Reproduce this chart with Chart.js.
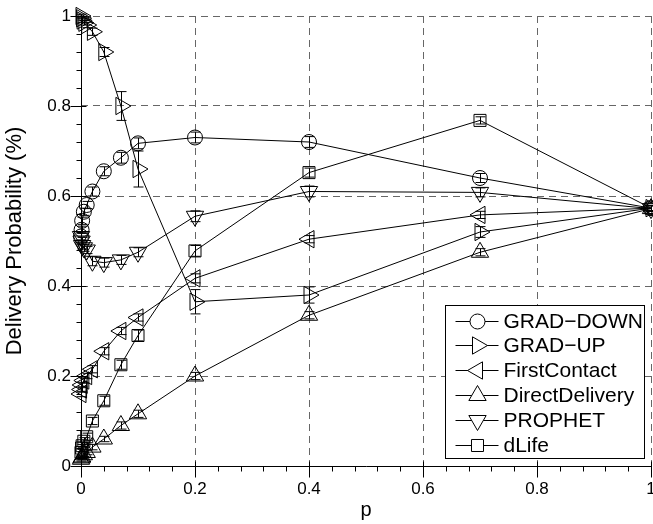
<!DOCTYPE html>
<html>
<head>
<meta charset="utf-8">
<script src="https://cdn.jsdelivr.net/npm/chart.js@4/dist/chart.umd.min.js"></script>
<style>
html,body{margin:0;padding:0;background:#fff;}
</style>
</head>
<body>
<canvas id="deliveryChart" width="653" height="524"></canvas>
<script>
// x values (p)
const pValues = [0, 0.001, 0.002, 0.005, 0.01, 0.02, 0.04, 0.07, 0.1, 0.2, 0.4, 0.7, 1];

// delivery probability per protocol
const gradDown       = [0.51, 0.525, 0.545, 0.565, 0.58, 0.61, 0.655, 0.685, 0.717, 0.73, 0.72, 0.64, 0.573];
const gradUp         = [1.0, 0.995, 0.99, 0.985, 0.98, 0.965, 0.92, 0.80, 0.66, 0.365, 0.38, 0.52, 0.573];
const firstContact   = [0.16, 0.17, 0.18, 0.19, 0.2, 0.215, 0.255, 0.30, 0.33, 0.417, 0.504, 0.558, 0.573];
const directDelivery = [0.015, 0.018, 0.02, 0.025, 0.03, 0.042, 0.06, 0.09, 0.116, 0.2, 0.335, 0.475, 0.572];
const prophet        = [0.51, 0.50, 0.49, 0.485, 0.48, 0.455, 0.452, 0.458, 0.475, 0.555, 0.61, 0.608, 0.572];
const dLife          = [0.03, 0.04, 0.045, 0.055, 0.065, 0.1, 0.145, 0.225, 0.29, 0.478, 0.652, 0.768, 0.573];

// error bar half-widths
const gradDownErr       = [0.008, 0.008, 0.008, 0.008, 0.008, 0.01, 0.01, 0.012, 0.012, 0.012, 0.012, 0.01, 0.006];
const gradUpErr         = [0.004, 0.004, 0.005, 0.005, 0.006, 0.008, 0.01, 0.032, 0.04, 0.027, 0.018, 0.012, 0.006];
const firstContactErr   = [0.006, 0.006, 0.006, 0.006, 0.006, 0.008, 0.008, 0.008, 0.008, 0.01, 0.008, 0.008, 0.006];
const directDeliveryErr = [0.004, 0.004, 0.004, 0.004, 0.005, 0.006, 0.006, 0.008, 0.008, 0.008, 0.008, 0.008, 0.006];
const prophetErr        = [0.008, 0.008, 0.008, 0.008, 0.008, 0.01, 0.01, 0.01, 0.01, 0.012, 0.012, 0.01, 0.006];
const dLifeErr          = [0.008, 0.008, 0.008, 0.008, 0.008, 0.008, 0.01, 0.01, 0.012, 0.012, 0.01, 0.008, 0.006];

const seriesNames = ["GRAD\u2212DOWN", "GRAD\u2212UP", "FirstContact", "DirectDelivery", "PROPHET", "dLife"];
const xTicks = [0, 0.2, 0.4, 0.6, 0.8, 1];
const yTicks = [0, 0.2, 0.4, 0.6, 0.8, 1];

const FONT = "'Liberation Sans', Arial, Helvetica, sans-serif";

function toPoints(ys){
    return pValues.map((p,i)=>({x:p, y:ys[i]}));
}

function makeSet(label, ys, errs, style, rotation, radius){
    return {
        label: label,
        data: toPoints(ys),
        errors: errs,
        borderColor: "#000",
        borderWidth: 1,
        backgroundColor: "rgba(0,0,0,0)",
        pointStyle: style,
        rotation: rotation,
        pointRadius: radius,
        pointBorderColor: "#000",
        pointBackgroundColor: "rgba(0,0,0,0)",
        pointBorderWidth: 1,
        tension: 0,
        clip: false
    };
}

const datasets = [
    makeSet(seriesNames[0], gradDown, gradDownErr, "circle", 0, 7.5),
    makeSet(seriesNames[1], gradUp, gradUpErr, "triangle", 90, 10),
    makeSet(seriesNames[2], firstContact, firstContactErr, "triangle", 270, 10),
    makeSet(seriesNames[3], directDelivery, directDeliveryErr, "triangle", 0, 10),
    makeSet(seriesNames[4], prophet, prophetErr, "triangle", 180, 10),
    makeSet(seriesNames[5], dLife, dLifeErr, "rect", 0, 8.5)
];

function fmtTick(v){
    return String(Math.round(v*10)/10);
}

// vertical error bars with caps
const errorBars = {
    id: "errorBars",
    afterDatasetsDraw(chart){
        const ctx = chart.ctx;
        const xs = chart.scales.x, ys = chart.scales.y;
        ctx.save();
        ctx.strokeStyle = "#000";
        ctx.lineWidth = 1;
        chart.data.datasets.forEach(ds=>{
            ds.data.forEach((pt,i)=>{
                const e = ds.errors[i];
                const px = Math.round(xs.getPixelForValue(pt.x)) + 0.5;
                const top = ys.getPixelForValue(pt.y + e);
                const bot = ys.getPixelForValue(pt.y - e);
                ctx.beginPath();
                ctx.moveTo(px, top); ctx.lineTo(px, bot);
                ctx.moveTo(px - 5, top); ctx.lineTo(px + 5, top);
                ctx.moveTo(px - 5, bot); ctx.lineTo(px + 5, bot);
                ctx.stroke();
            });
        });
        ctx.restore();
    }
};

// axis lines, major/minor tick marks and x tick labels
const axesTicks = {
    id: "axesTicks",
    afterDraw(chart){
        const ctx = chart.ctx;
        const xs = chart.scales.x, ys = chart.scales.y;
        const a = chart.chartArea;
        const x0 = Math.round(a.left) + 0.5, y0 = Math.round(a.bottom) + 0.5;
        ctx.save();
        ctx.strokeStyle = "#000";
        ctx.lineWidth = 1;
        ctx.beginPath();
        ctx.moveTo(x0, Math.round(a.top)); ctx.lineTo(x0, y0);
        ctx.lineTo(Math.round(a.right), y0);
        for(let k=0;k<=25;k++){
            const v = k*0.04;
            const major = k%5===0;
            const px = Math.round(xs.getPixelForValue(v)) + 0.5;
            ctx.moveTo(px, major ? y0-5 : y0);
            ctx.lineTo(px, major ? y0+11 : y0+5);
            const py = Math.round(ys.getPixelForValue(v)) + 0.5;
            ctx.moveTo(major ? x0+5 : x0, py);
            ctx.lineTo(major ? x0-11 : x0-5, py);
        }
        ctx.stroke();
        ctx.fillStyle = "#000";
        ctx.font = "17px " + FONT;
        ctx.textAlign = "center";
        ctx.textBaseline = "middle";
        xTicks.forEach(v=>{
            ctx.fillText(fmtTick(v), xs.getPixelForValue(v), y0 + 23);
        });
        ctx.restore();
    }
};

// boxed legend inside the plot
const boxLegend = {
    id: "boxLegend",
    afterDraw(chart){
        const ctx = chart.ctx;
        const a = chart.chartArea;
        const w = 199, h = 153;
        const bx = Math.round(a.right) - 7 - w + 0.5;
        const by = Math.round(a.bottom) - 8 - h + 0.5;
        ctx.save();
        ctx.fillStyle = "#fff";
        ctx.fillRect(bx, by, w, h);
        ctx.strokeStyle = "#000";
        ctx.lineWidth = 1;
        ctx.strokeRect(bx, by, w, h);
        ctx.font = "21px " + FONT;
        ctx.textBaseline = "middle";
        chart.data.datasets.forEach((ds,i)=>{
            const cy = Math.round(by + 15 + i*24.8) + 0.5;
            ctx.beginPath();
            ctx.moveTo(bx + 10, cy);
            ctx.lineTo(bx + 53, cy);
            ctx.stroke();
            ctx.fillStyle = "#fff";
            Chart.helpers.drawPoint(ctx, {
                pointStyle: ds.pointStyle,
                rotation: ds.rotation,
                radius: ds.pointRadius,
                borderWidth: 1
            }, bx + 32, cy);
            ctx.fillStyle = "#000";
            ctx.fillText(ds.label, bx + 58, cy + 1);
        });
        ctx.restore();
    }
};

new Chart(document.getElementById("deliveryChart"), {
    type: "line",
    data: { datasets: datasets },
    options: {
        responsive: false,
        animation: false,
        devicePixelRatio: 1,
        layout: { autoPadding: false, padding: { top: 16, right: 2, left: 0, bottom: 0 } },
        plugins: { legend: { display: false }, tooltip: { enabled: false } },
        scales: {
            x: {
                type: "linear",
                min: 0, max: 1,
                afterBuildTicks(scale){ scale.ticks = xTicks.map(v=>({value:v})); },
                afterFit(scale){ scale.height = 58; },
                grid: { color: "#666", lineWidth: 1, drawTicks: false },
                border: { display: false, dash: [7,5] },
                ticks: { display: false },
                title: { display: true, text: "p", color: "#000", padding: { top: 0, bottom: 2 }, font: { family: FONT, size: 20 } }
            },
            y: {
                type: "linear",
                min: 0, max: 1,
                afterBuildTicks(scale){ scale.ticks = yTicks.map(v=>({value:v})); },
                afterFit(scale){ scale.width = 81; scale.paddingTop = 0; scale.paddingBottom = 0; },
                grid: { color: "#666", lineWidth: 1, drawTicks: false },
                border: { display: false, dash: [7,5] },
                ticks: { color: "#000", padding: 10, callback: v=>fmtTick(v), font: { family: FONT, size: 17 } },
                title: { display: true, text: "Delivery Probability (%)", color: "#000", padding: { top: 2, bottom: 0 }, font: { family: FONT, size: 22 } }
            }
        }
    },
    plugins: [errorBars, axesTicks, boxLegend]
});
</script>
</body>
</html>
